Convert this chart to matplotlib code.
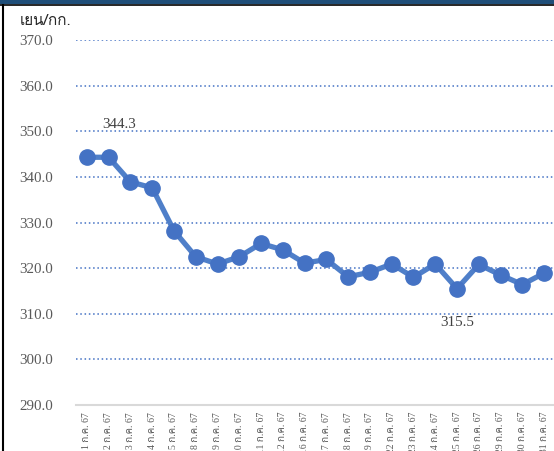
import matplotlib
matplotlib.use("Agg")
import matplotlib.pyplot as plt
from matplotlib.lines import Line2D
from matplotlib.patches import Rectangle

dates = ["1 ก.ค. 67", "2 ก.ค. 67", "3 ก.ค. 67", "4 ก.ค. 67", "5 ก.ค. 67",
         "8 ก.ค. 67", "9 ก.ค. 67", "10 ก.ค. 67", "11 ก.ค. 67", "12 ก.ค. 67",
         "16 ก.ค. 67", "17 ก.ค. 67", "18 ก.ค. 67", "19 ก.ค. 67", "22 ก.ค. 67",
         "23 ก.ค. 67", "24 ก.ค. 67", "25 ก.ค. 67", "26 ก.ค. 67", "29 ก.ค. 67",
         "30 ก.ค. 67", "31 ก.ค. 67"]
prices = [344.3, 344.3, 338.9, 337.6, 328.2, 322.5, 320.9, 322.5, 325.4, 324.0,
          321.1, 321.9, 318.1, 319.1, 320.9, 318.0, 320.9, 315.5, 320.8, 318.5,
          316.4, 318.9]
yticks = [290, 300, 310, 320, 330, 340, 350, 360, 370]
unit_label = "เยน/กก."

serif = ["Liberation Serif", "Noto Sans Thai Looped"]
thai = ["Loma", "Noto Sans Thai Looped", "DejaVu Sans"]

W, H = 554, 451
fig = plt.figure(figsize=(W / 100, H / 100), dpi=100)
ax = fig.add_axes([76 / W, 1 - 405 / H, (555 - 76) / W, (405 - 40) / H])

x = list(range(len(prices)))
ax.plot(x, prices, color="#4F7FC9", lw=3.8, marker="o", markersize=11,
        markerfacecolor="#4472C4", markeredgecolor="#4472C4", zorder=3,
        clip_on=False)

ax.set_xlim(-0.5, len(prices) - 0.5)
ax.set_ylim(290, 370)
ax.set_yticks(yticks)
ax.set_yticklabels([f"{v:.1f}" for v in yticks], family=serif,
                   fontsize=10.8, color="#595959")
ax.set_xticks(x)
ax.set_xticklabels(dates, rotation=90, family=serif, fontsize=7,
                   color="#595959", va="top")
ax.tick_params(axis="both", length=0)
ax.tick_params(axis="y", pad=16.5)
ax.tick_params(axis="x", pad=5)

for v in yticks[1:]:
    ax.axhline(v, color="#4472C4", lw=1.1, ls=(0, (1, 1.8)), zorder=1)
for s in ["top", "right", "left"]:
    ax.spines[s].set_visible(False)
ax.spines["bottom"].set_color("#D9D9D9")
ax.spines["bottom"].set_linewidth(1.5)

ax.annotate(f"{prices[0]:.1f}", (0, prices[0]), xytext=(23, 19),
            textcoords="offset points", ha="center", va="bottom",
            family=serif, fontsize=10.8, color="#404040")
imin = prices.index(min(prices))
ax.annotate(f"{prices[imin]:.1f}", (imin, prices[imin]), xytext=(0, -20),
            textcoords="offset points", ha="center", va="top",
            family=serif, fontsize=10.8, color="#404040")

fig.text(20 / W, 1 - 21 / H, unit_label, family=thai, fontsize=11,
         color="#262626", va="center", ha="left")

# frame decorations
fig.add_artist(Rectangle((0, 1 - 4 / H), 1, 4 / H, transform=fig.transFigure,
                         color="#1F4E79", lw=0))
fig.add_artist(Line2D([0, 1], [1 - 5 / H, 1 - 5 / H], transform=fig.transFigure,
                      color="black", lw=1.2))
fig.add_artist(Line2D([3.5 / W, 3.5 / W], [0, 1 - 5 / H], transform=fig.transFigure,
                      color="black", lw=1.5))

fig.savefig("out.png", dpi=100)
